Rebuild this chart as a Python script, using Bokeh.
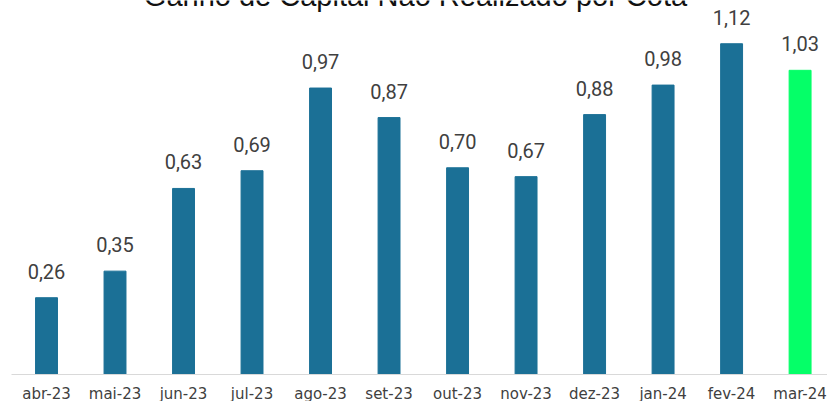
from bokeh.plotting import figure
from bokeh.models import ColumnDataSource, Range1d, FixedTicker, LabelSet, Label
from bokeh.core.properties import value
from bokeh.embed import file_html
from bokeh.resources import INLINE

months = ["abr-23", "mai-23", "jun-23", "jul-23", "ago-23", "set-23",
          "out-23", "nov-23", "dez-23", "jan-24", "fev-24", "mar-24"]
values = [0.26, 0.35, 0.63, 0.69, 0.97, 0.87, 0.70, 0.67, 0.88, 0.98, 1.12, 1.03]
title_text = "Ganho de Capital Não Realizado por  Cota"

BLUE = "#1B7096"
GREEN = "#05FF68"
highlight = len(values) - 1

xs = list(range(len(months)))
colors = [GREEN if i == highlight else BLUE for i in xs]
labels = [f"{v:.2f}".replace(".", ",") for v in values]

src = ColumnDataSource(dict(x=xs, top=values, color=colors, label=labels))

p = figure(width=827, height=405, output_backend="svg", toolbar_location=None,
           x_range=Range1d(-0.511, 11.40), y_range=Range1d(0, 1.2664),
           min_border_left=11, min_border_right=0, min_border_top=0, min_border_bottom=0)
p.outline_line_color = None
p.background_fill_color = "white"
p.border_fill_color = "white"
p.xgrid.visible = False
p.ygrid.visible = False
p.yaxis.visible = False

p.vbar(x="x", top="top", width=0.32, color="color", source=src)

p.add_layout(LabelSet(x="x", y="top", text="label", source=src, y_offset=19,
                      text_align="center", text_baseline="alphabetic",
                      text_font=value("Roboto"), text_font_size=value("20px"),
                      text_color="#404040"))

xr = p.x_range
p.add_layout(Label(x=(xr.start + xr.end) / 2, y=1.280, text=title_text,
                   text_align="center", text_baseline="alphabetic",
                   text_font="Liberation Sans", text_font_size="29px", text_color="#111111"))

ax = p.xaxis[0]
ax.ticker = FixedTicker(ticks=xs)
ax.major_label_overrides = {i: m for i, m in zip(xs, months)}
ax.major_tick_in = 0
ax.major_tick_out = 0
ax.minor_tick_in = 0
ax.minor_tick_out = 0
ax.axis_line_color = "#D9D9D9"
ax.axis_line_width = 1
ax.major_label_standoff = 10
ax.major_label_text_font = "DejaVu Sans"
ax.major_label_text_font_size = "15px"
ax.major_label_text_color = "#404040"

open("out.html", "w").write(file_html(p, INLINE))
